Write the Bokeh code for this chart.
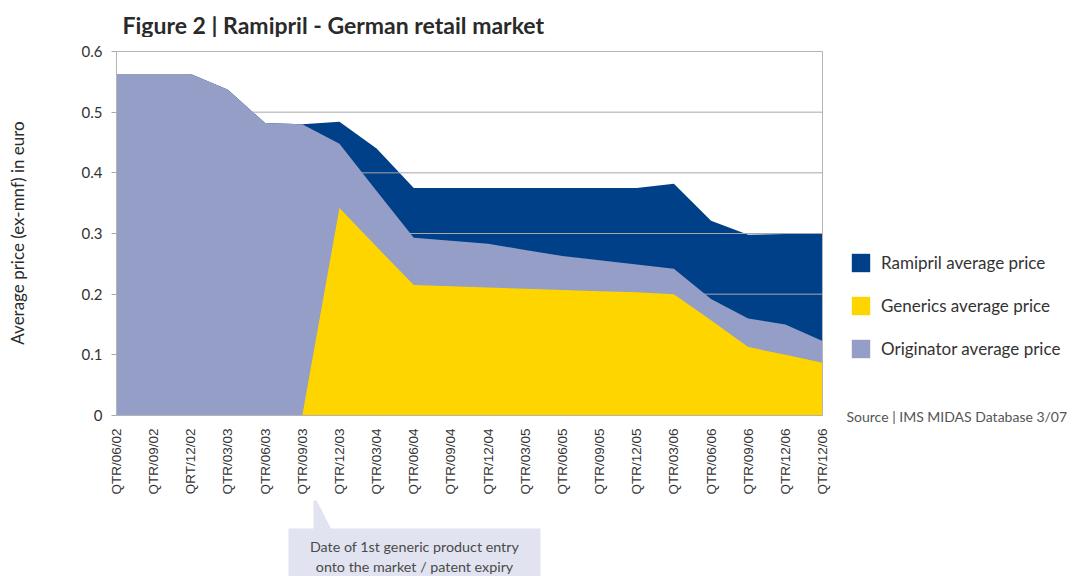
import math
from bokeh.plotting import figure
from bokeh.layouts import column
from bokeh.models import (Range1d, FixedTicker, CustomJSTickFormatter, Label, Legend, LegendItem)
from bokeh.core.properties import value
from bokeh.embed import file_html
from bokeh.resources import INLINE

categories = ["QTR/06/02", "QTR/09/02", "QRT/12/02", "QTR/03/03", "QTR/06/03", "QTR/09/03",
              "QTR/12/03", "QTR/03/04", "QTR/06/04", "QTR/09/04", "QTR/12/04", "QTR/03/05",
              "QTR/06/05", "QTR/09/05", "QTR/12/05", "QTR/03/06", "QTR/06/06", "QTR/09/06",
              "QTR/12/06", "QTR/12/06"]
ramipril = [0.563, 0.563, 0.563, 0.537, 0.482, 0.480, 0.484, 0.440, 0.375, 0.375, 0.375, 0.375,
            0.375, 0.375, 0.375, 0.382, 0.321, 0.298, 0.299, 0.300]
originator = [0.563, 0.563, 0.563, 0.537, 0.482, 0.480, 0.448, 0.370, 0.293, 0.288, 0.283, 0.273,
              0.263, 0.256, 0.249, 0.242, 0.192, 0.160, 0.150, 0.123]
generics = [0, 0, 0, 0, 0, 0, 0.342, 0.278, 0.215, 0.213, 0.211, 0.209, 0.207, 0.205, 0.203,
            0.200, 0.157, 0.113, 0.100, 0.087]
y_ticks = [0, 0.1, 0.2, 0.3, 0.4, 0.5, 0.6]
grid_vals = [0.1, 0.2, 0.3, 0.4, 0.5]
series_names = ["Ramipril average price", "Generics average price", "Originator average price"]
note_lines = ["Date of 1st generic product entry", "onto the market / patent expiry"]
source_text = "Source | IMS MIDAS Database 3/07"
title_text = "Figure 2 | Ramipril - German retail market"

x = list(range(len(categories)))
zeros = [0] * len(categories)
x_last = x[-1]
y_max = y_ticks[-1]

C_RAM = "#004088"
C_GEN = "#FFD500"
C_ORI = "#949EC7"
TXT = "#333333"
BOXC = "#E1E3F0"
FRAME_C = "#b4b4b4"
GRID_C = "#a8a8a8"

# page geometry (pixels): plot box 116..822 x 51..415.
W = 1077
HEAD_H = 37            # strip holding the title
MAIN_B = 500           # bottom of the main chart strip (page y)
PLOT_L, PLOT_R, PLOT_T, PLOT_B = 116, 822, 51, 415
FRAME_T, FRAME_B = HEAD_H, 428
MAIN_H = MAIN_B - HEAD_H
xs = (PLOT_R - PLOT_L) / x_last
ys = (PLOT_B - PLOT_T) / y_max
x_range = Range1d(0, x_last + (W - PLOT_R) / xs)
y_range = Range1d(-(FRAME_B - PLOT_B) / ys, y_max + (PLOT_T - FRAME_T) / ys)

# ---- title strip
p0 = figure(width=W, height=HEAD_H, output_backend="svg", toolbar_location=None,
            x_range=Range1d(PLOT_L, W), y_range=Range1d(HEAD_H, 0),
            x_axis_location=None, y_axis_location=None,
            min_border_left=PLOT_L, min_border_right=0, min_border_top=0, min_border_bottom=0)
p0.outline_line_color = None
p0.grid.grid_line_color = None
p0.text(x=[122], y=[24], text=[title_text], text_font=value("Lato"), text_font_style="bold",
        text_font_size="23px", text_color="#2a2a2a", text_align="left", text_baseline="middle")

# ---- main chart
p = figure(width=W, height=MAIN_H, output_backend="svg", toolbar_location=None,
           x_range=x_range, y_range=y_range,
           min_border_left=PLOT_L, min_border_right=0, min_border_top=0,
           min_border_bottom=MAIN_B - FRAME_B)
p.background_fill_color = "white"
p.border_fill_color = "white"
p.outline_line_color = None
p.xgrid.grid_line_color = None
p.ygrid.grid_line_color = None

r_ram = p.varea(x=x, y1=zeros, y2=ramipril, fill_color=C_RAM)
p.segment(x0=[0] * len(grid_vals), x1=[x_last] * len(grid_vals), y0=grid_vals, y1=grid_vals,
          line_color=GRID_C, line_width=1)
r_ori = p.varea(x=x, y1=zeros, y2=originator, fill_color=C_ORI)
r_gen = p.varea(x=x, y1=zeros, y2=generics, fill_color=C_GEN)
# plot box border (top, right, bottom)
p.segment(x0=[0, x_last, 0], x1=[x_last, x_last, x_last], y0=[y_max, 0, 0], y1=[y_max, y_max, 0],
          line_color=FRAME_C, line_width=1)

p.xaxis.ticker = FixedTicker(ticks=x)
p.xaxis.formatter = CustomJSTickFormatter(args=dict(labels=categories),
                                          code="return labels[Math.round(tick)] || '';")
p.xaxis.major_label_orientation = math.pi / 2
p.xaxis.major_tick_out = 0
p.xaxis.major_tick_in = 0
p.xaxis.minor_tick_line_color = None
p.xaxis.axis_line_color = None
p.xaxis.major_label_standoff = 0
p.xaxis.major_label_text_font = "Liberation Sans"
p.xaxis.major_label_text_font_size = "13.5px"
p.xaxis.major_label_text_color = TXT

p.yaxis.ticker = FixedTicker(ticks=y_ticks)
p.yaxis.bounds = (0, y_max)
p.yaxis.formatter = CustomJSTickFormatter(code="return tick == 0 ? '0' : tick.toFixed(1);")
p.yaxis.major_tick_out = 5
p.yaxis.major_tick_in = 0
p.yaxis.major_tick_line_color = GRID_C
p.yaxis.minor_tick_line_color = None
p.yaxis.axis_line_color = FRAME_C
p.yaxis.major_label_standoff = 9
p.yaxis.major_label_text_font = "Lato"
p.yaxis.major_label_text_font_size = "15px"
p.yaxis.major_label_text_color = TXT
p.yaxis.axis_label = "Average price (ex-mnf) in euro"
p.yaxis.axis_label_text_font = "Lato"
p.yaxis.axis_label_text_font_style = "normal"
p.yaxis.axis_label_text_font_size = "17px"
p.yaxis.axis_label_text_color = "#2a2a2a"
p.yaxis.axis_label_standoff = 51

legend = Legend(items=[LegendItem(label=series_names[0], renderers=[r_ram]),
                       LegendItem(label=series_names[1], renderers=[r_gen]),
                       LegendItem(label=series_names[2], renderers=[r_ori])],
                location=(849 - PLOT_L, FRAME_B - 360), glyph_width=23, glyph_height=23, spacing=20,
                padding=0, margin=0, label_standoff=9, label_text_font="Lato",
                label_text_font_size="17px", label_text_color=TXT, border_line_color=None,
                background_fill_alpha=0)
p.add_layout(legend, "center")

p.add_layout(Label(x=846, y=416 - HEAD_H, x_units="canvas", y_units="canvas", text=source_text,
                   text_font="Lato", text_font_size="14px", text_color="#555555",
                   text_baseline="middle", text_align="left"))

# ---- bottom strip with the note box (data coords = page pixels offset, y pointing down)
BOT_H = 576 - MAIN_B
p2 = figure(width=W, height=BOT_H, output_backend="svg", toolbar_location=None,
            x_range=Range1d(PLOT_L, W), y_range=Range1d(BOT_H, 0),
            x_axis_location=None, y_axis_location=None,
            min_border_left=PLOT_L, min_border_right=0, min_border_top=0, min_border_bottom=0)
p2.outline_line_color = None
p2.grid.grid_line_color = None
p2.background_fill_color = "white"
p2.border_fill_color = "white"
p2.quad(left=[288], right=[540], top=[528 - MAIN_B], bottom=[BOT_H], fill_color=BOXC, line_color=None)
p2.patch(x=[313, 313, 331], y=[494 - MAIN_B, 529 - MAIN_B, 529 - MAIN_B], fill_color=BOXC, line_color=None)
p2.text(x=[414, 414], y=[546 - MAIN_B, 566 - MAIN_B], text=note_lines, text_font=value("Lato"),
        text_font_size="14.3px", text_color="#4a4a4a", text_align="center", text_baseline="middle")

layout = column(p0, p, p2)
open("out.html", "w").write(file_html(layout, INLINE))
